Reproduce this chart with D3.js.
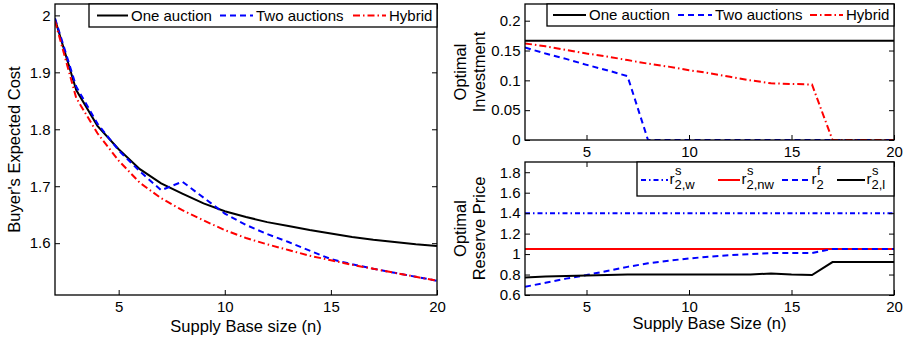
<!DOCTYPE html>
<html>
<head>
<meta charset="utf-8">
<script src="https://cdn.jsdelivr.net/npm/d3@7"></script>
<style>
  body { margin: 0; background: #fff; }
  text { font-family: "Liberation Sans", Arial, Helvetica, sans-serif; fill: #000; }
</style>
</head>
<body>
<div id="chart"></div>
<script>
// supply base size n
var supplySize = [2, 3, 4, 5, 6, 7, 8, 9, 10, 11, 12, 13, 14, 15, 16, 17, 18, 19, 20];

// buyer's expected cost
var costOne    = [1.993, 1.869, 1.806, 1.765, 1.730, 1.705, 1.687, 1.670, 1.656, 1.646, 1.637, 1.630, 1.623, 1.617, 1.611, 1.606, 1.602, 1.598, 1.595];
var costTwo    = [1.995, 1.875, 1.810, 1.763, 1.726, 1.693, 1.708, 1.680, 1.652, 1.632, 1.616, 1.602, 1.587, 1.572, 1.563, 1.555, 1.548, 1.541, 1.534];
var costHybrid = [1.990, 1.855, 1.793, 1.745, 1.706, 1.679, 1.658, 1.640, 1.623, 1.609, 1.598, 1.588, 1.578, 1.570, 1.562, 1.555, 1.548, 1.541, 1.534];

// optimal investment
var investOne    = [0.1666, 0.1666, 0.1666, 0.1666, 0.1666, 0.1666, 0.1666, 0.1666, 0.1666, 0.1666, 0.1666, 0.1666, 0.1666, 0.1666, 0.1666, 0.1666, 0.1666, 0.1666, 0.1666];
var investTwo    = [0.155, 0.145, 0.136, 0.126, 0.117, 0.107, 0, 0, 0, 0, 0, 0, 0, 0, 0, 0, 0, 0, 0];
var investHybrid = [0.162, 0.157, 0.151, 0.145, 0.140, 0.134, 0.128, 0.123, 0.117, 0.112, 0.106, 0.100, 0.095, 0.094, 0.093, 0, 0, 0, 0];

// optimal reserve prices
var reserveW  = [1.40, 1.40, 1.40, 1.40, 1.40, 1.40, 1.40, 1.40, 1.40, 1.40, 1.40, 1.40, 1.40, 1.40, 1.40, 1.40, 1.40, 1.40, 1.40];
var reserveNw = [1.05, 1.05, 1.05, 1.05, 1.05, 1.05, 1.05, 1.05, 1.05, 1.05, 1.05, 1.05, 1.05, 1.05, 1.05, 1.05, 1.05, 1.05, 1.05];
var reserveF  = [0.68, 0.72, 0.76, 0.795, 0.835, 0.875, 0.91, 0.935, 0.957, 0.975, 0.99, 1.0, 1.01, 1.01, 1.01, 1.05, 1.05, 1.05, 1.05];
var reserveL  = [0.77, 0.78, 0.785, 0.79, 0.795, 0.80, 0.80, 0.80, 0.80, 0.80, 0.80, 0.80, 0.81, 0.80, 0.795, 0.922, 0.922, 0.922, 0.922];

// tick labels
var xTicks       = [5, 10, 15, 20];
var costTicks    = [1.6, 1.7, 1.8, 1.9, 2];
var investTicks  = [0, 0.05, 0.1, 0.15, 0.2];
var reserveTicks = [0.6, 0.8, 1, 1.2, 1.4, 1.6, 1.8];

var width = 909, height = 342;

var svg = d3.select("#chart")
  .append("svg")
    .attr("width", width)
    .attr("height", height);

function panel(box, yDomain, yTicks, series, id)
{
  var x = d3.scaleLinear().domain([2, 20]).range([box.left, box.right]);
  var y = d3.scaleLinear().domain(yDomain).range([box.bottom, box.top]);

  var g = svg.append("g");

  g.append("clipPath").attr("id", id)
    .append("rect")
      .attr("x", box.left).attr("y", box.top)
      .attr("width", box.right - box.left).attr("height", box.bottom - box.top);

  var line = d3.line()
    .x(function(d, i) { return x(supplySize[i]); })
    .y(function(d) { return y(d); });

  g.append("g").attr("clip-path", "url(#" + id + ")")
    .selectAll("path")
    .data(series)
    .enter()
    .append("path")
      .attr("d", function(s) { return line(s.values); })
      .attr("fill", "none")
      .attr("stroke", function(s) { return s.color; })
      .attr("stroke-width", 2)
      .attr("stroke-dasharray", function(s) { return s.dash; });

  // axes, ticks pointing inwards on all four sides (matlab box)
  var fmt = function(d) { return String(d); };
  var axes = [
    g.append("g").attr("transform", "translate(0," + box.bottom + ")")
      .call(d3.axisBottom(x).tickValues(xTicks).tickFormat(fmt).tickSizeInner(-5).tickSizeOuter(0).tickPadding(6.5)),
    g.append("g").attr("transform", "translate(0," + box.top + ")")
      .call(d3.axisTop(x).tickValues(xTicks).tickFormat("").tickSizeInner(-5).tickSizeOuter(0)),
    g.append("g").attr("transform", "translate(" + box.left + ",0)")
      .call(d3.axisLeft(y).tickValues(yTicks).tickFormat(fmt).tickSizeInner(-5).tickSizeOuter(0).tickPadding(4.5)),
    g.append("g").attr("transform", "translate(" + box.right + ",0)")
      .call(d3.axisRight(y).tickValues(yTicks).tickFormat("").tickSizeInner(-5).tickSizeOuter(0))
  ];
  axes.forEach(function(a) {
    a.selectAll(".domain").remove();
    a.selectAll("line").attr("stroke", "#000").attr("stroke-width", 1);
    a.selectAll("text").style("font-size", "15px").attr("fill", "#000")
      .style("font-family", '"Liberation Sans", Arial, sans-serif');
  });

  g.append("rect")
    .attr("x", box.left).attr("y", box.top)
    .attr("width", box.right - box.left).attr("height", box.bottom - box.top)
    .attr("fill", "none").attr("stroke", "#000").attr("stroke-width", 1.3);

  return g;
}

function legend(box, items, lineY, textY)
{
  var g = svg.append("g");
  g.append("rect")
    .attr("x", box.left).attr("y", box.top)
    .attr("width", box.right - box.left).attr("height", box.bottom - box.top)
    .attr("fill", "#fff").attr("stroke", "#000").attr("stroke-width", 1.3);
  items.forEach(function(it) {
    g.append("line")
      .attr("x1", it.x1).attr("x2", it.x2).attr("y1", lineY).attr("y2", lineY)
      .attr("stroke", it.color).attr("stroke-width", 2)
      .attr("stroke-dasharray", it.dash);
    if (it.sup !== undefined) {
      // r with superscript and subscript stacked after it
      var tx = it.x2 + 1.5;
      g.append("text").attr("x", tx).attr("y", textY).style("font-size", "15px").text("r");
      g.append("text").attr("x", tx + 5.5).attr("y", textY - 9.5).style("font-size", "13px").text(it.sup);
      g.append("text").attr("x", tx + 5).attr("y", textY + 4.5).style("font-size", "13px").text(it.sub);
    } else {
      g.append("text").attr("x", it.x2 + 3).attr("y", textY).style("font-size", "15px").text(it.label);
    }
  });
}

var dashed = "6,4";
var dashDot = "7,3,1.5,3";

// left: expected cost
var boxA = {left: 55, right: 437, top: 4, bottom: 295};
panel(boxA, [1.509, 2.02], costTicks, [
  {values: costOne, color: "#000", dash: null},
  {values: costTwo, color: "#0000ff", dash: dashed},
  {values: costHybrid, color: "#ff0000", dash: dashDot}
], "clipA");
legend({left: 89, right: 437, top: 4, bottom: 27}, [
  {x1: 97, x2: 128, color: "#000", dash: null, label: "One auction"},
  {x1: 220, x2: 253, color: "#0000ff", dash: dashed, label: "Two auctions"},
  {x1: 353, x2: 386, color: "#ff0000", dash: dashDot, label: "Hybrid"}
], 15.5, 20.5);

// top right: investment
var boxB = {left: 525, right: 894, top: 4, bottom: 140};
panel(boxB, [0, 0.228], investTicks, [
  {values: investOne, color: "#000", dash: null},
  {values: investTwo, color: "#0000ff", dash: dashed},
  {values: investHybrid, color: "#ff0000", dash: dashDot}
], "clipB");
legend({left: 547, right: 894, top: 4, bottom: 26}, [
  {x1: 553, x2: 586, color: "#000", dash: null, label: "One auction"},
  {x1: 678, x2: 712, color: "#0000ff", dash: dashed, label: "Two auctions"},
  {x1: 810, x2: 843, color: "#ff0000", dash: dashDot, label: "Hybrid"}
], 15, 20);

// bottom right: reserve price
var boxC = {left: 525, right: 894, top: 162, bottom: 295};
panel(boxC, [0.6, 1.9], reserveTicks, [
  {values: reserveW, color: "#0000ff", dash: "5,3,1.5,3"},
  {values: reserveNw, color: "#ff0000", dash: null},
  {values: reserveF, color: "#0000ff", dash: dashed},
  {values: reserveL, color: "#000", dash: null}
], "clipC");
legend({left: 637, right: 894, top: 162, bottom: 196}, [
  {x1: 641, x2: 668, color: "#0000ff", dash: "5,3,1.5,3", sup: "s", sub: "2,w"},
  {x1: 718, x2: 740, color: "#ff0000", dash: null, sup: "s", sub: "2,nw"},
  {x1: 782, x2: 810, color: "#0000ff", dash: dashed, sup: "f", sub: "2"},
  {x1: 837, x2: 865, color: "#000", dash: null, sup: "s", sub: "2,l"}
], 180, 184);

// axis labels
function label(x, y, rot, lines)
{
  var t = svg.append("text")
    .attr("transform", "translate(" + x + "," + y + ") rotate(" + rot + ")")
    .attr("text-anchor", "middle")
    .style("font-size", "16.5px");
  lines.forEach(function(s, i) {
    t.append("tspan").attr("x", 0).attr("dy", i === 0 ? 0 : 19).text(s);
  });
}

label(246, 331.5, 0, ["Supply Base size (n)"]);
label(709.5, 328.5, 0, ["Supply Base Size (n)"]);
label(20, 149.5, -90, ["Buyer's Expected Cost"]);
label(466, 72, -90, ["Optimal", "Investment"]);
label(466, 228.5, -90, ["Optimal", "Reserve Price"]);
</script>
</body>
</html>
